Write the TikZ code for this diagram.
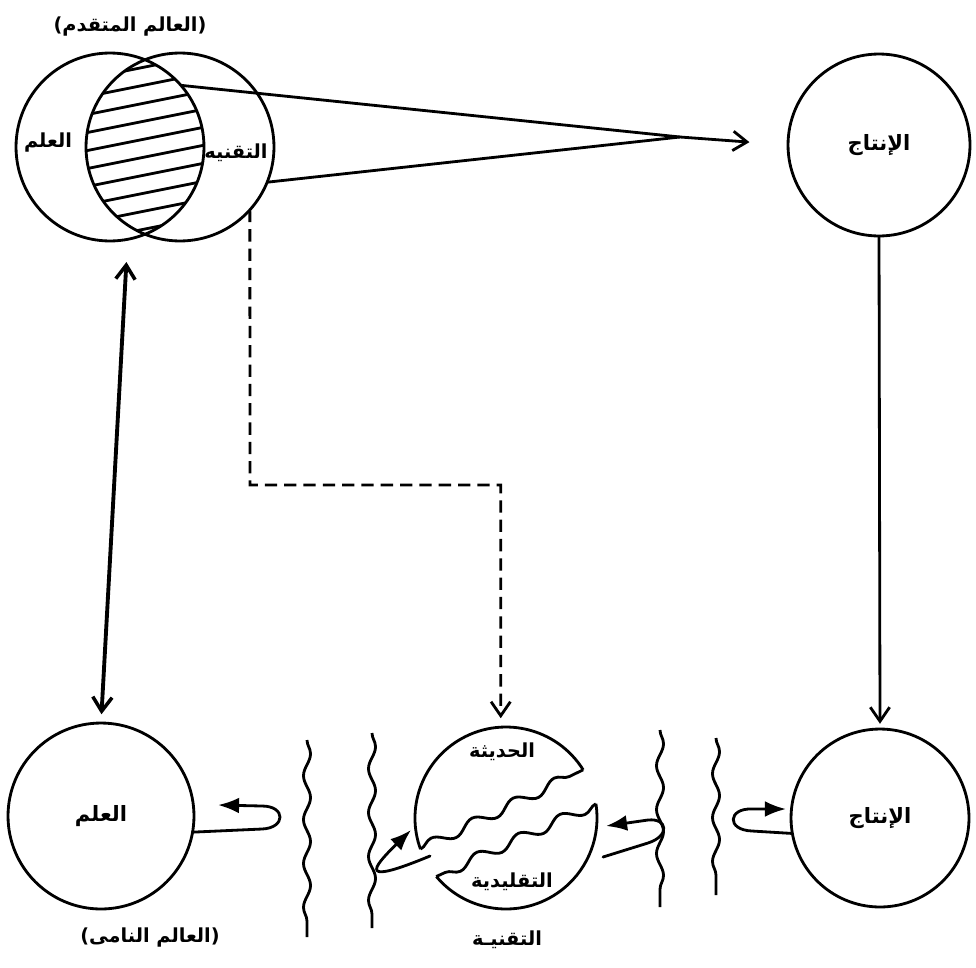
\documentclass[tikz,border=0pt]{standalone}
\usepackage{fontspec}
\newfontfamily\arabicfont[Script=Arabic]{DejaVu Sans}
\TeXXeTstate=1
\usetikzlibrary{arrows.meta,positioning,decorations.pathmorphing}

\newcommand{\artext}[1]{{\arabicfont\bfseries\beginR #1\endR}}

\begin{document}
\begin{tikzpicture}[
    x=0.02cm, y=0.02cm,
    ring/.style={circle, draw, line width=1.6pt, inner sep=0pt, outer sep=0pt, font=\fontsize{12}{14}\selectfont},
    ghost/.style={circle, inner sep=0pt, outer sep=0pt},
    lbl/.style={font=\fontsize{11}{13}\selectfont, inner sep=1pt},
    link/.style={line width=1.6pt},
    barb/.style={link, -{Straight Barb[length=8pt,width=11pt,line width=1.6pt]}},
    turn/.style={link, line cap=round, -{Latex[length=12pt,width=9pt]}},
    rift/.style={link, decorate, decoration={snake, amplitude=3pt, segment length=26pt}},
    wall/.style={link, decorate, decoration={snake, amplitude=2pt, segment length=25pt}}
]
\useasboundingbox (0,0) rectangle (976,-967);

% Advanced world: science and technology overlap
\node[lbl] (adv-title) at (130,-27) {\artext{(العالم المتقدم)}};
\node[ring, minimum size=3.76cm] (venn-sci) at (110,-147) {};
\node[ring, minimum size=3.76cm] (venn-tech) at (180,-147) {};
\begin{scope}
    \clip (110,-147) circle[radius=94];
    \clip (180,-147) circle[radius=94];
    \foreach \k in {0,...,9}
        \draw[link] (50,-86-\k*18) -- (250,-46-\k*18);
\end{scope}
\node[lbl] (venn-sci-txt) at (48,-143) {\artext{العلم}};
\node[lbl] (venn-tech-txt) at (236,-153) {\artext{التقنيه}};

% Production, top
\node[ring, minimum size=3.64cm] (prod-top) at (879,-145) {\artext{الإنتاج}};
\coordinate (apex) at (680,-137);
\draw[link] (venn-sci.41) -- (apex);
\draw[link] (venn-tech.-22) -- (apex);
\draw[barb, shorten >=22pt] (apex) -- (prod-top.west);

% Production, bottom
\node[ring, minimum size=3.56cm] (prod-bot) at (880,-818) {\artext{الإنتاج}};
\draw[barb, shorten >=3pt] (prod-top.south) -- (prod-bot.north);

% Developing world: science
\node[ring, minimum size=3.72cm] (sci-low) at (101,-816) {\artext{العلم}};
\node[lbl] (low-title) at (150,-937) {\artext{(العالم النامى)}};
\draw[link, line width=2.2pt, {Straight Barb[length=8pt,width=11pt,line width=2pt]}-{Straight Barb[length=8pt,width=11pt,line width=2pt]}, shorten <=12pt, shorten >=5pt]
    ([xshift=10pt]venn-sci.south) -- (sci-low.north);

% Technology: modern and traditional halves
\node[ghost, minimum size=3.64cm] (tech-mid) at (506,-818) {};
\coordinate (bend) at (250,-485);
\draw[barb, dash pattern=on 7pt off 4pt, shorten >=5pt]
    (venn-tech.-42) -- (bend) -| ([xshift=-3pt]tech-mid.north);
\draw[link] (tech-mid.32) arc[start angle=32, end angle=200, radius=91];
\draw[rift] (tech-mid.200) -- (tech-mid.32);
\draw[link] (tech-mid.220) arc[start angle=220, end angle=369, radius=91];
\draw[rift] (tech-mid.9) -- (tech-mid.220);
\node[lbl] (modern-txt) at (502,-752) {\artext{الحديثة}};
\node[lbl] (trad-txt) at (512,-882) {\artext{التقليدية}};
\node[lbl] (tech-txt) at (507,-940) {\artext{التقنيـة}};

% Walls
\foreach \wx/\ya/\yb in {307/740/937, 372/733/928, 660/730/907, 716/738/895}
    \draw[wall] (\wx,-\ya) -- (\wx,-\yb);

% Self loops
\draw[turn] (sci-low.-10) -- (262,-829) .. controls (286,-828) and (286,-806) .. (262,-806) -- (218,-805);
\draw[turn] (430,-856) .. controls (360,-885) and (370,-870) .. (411,-830);
\draw[turn] (603,-857) -- (648,-843) .. controls (670,-836) and (668,-818) .. (648,-820) -- (606,-826);
\draw[turn] (prod-bot.190) -- (752,-831) .. controls (726,-830) and (728,-808) .. (752,-809) -- (786,-809);

\end{tikzpicture}
\end{document}
